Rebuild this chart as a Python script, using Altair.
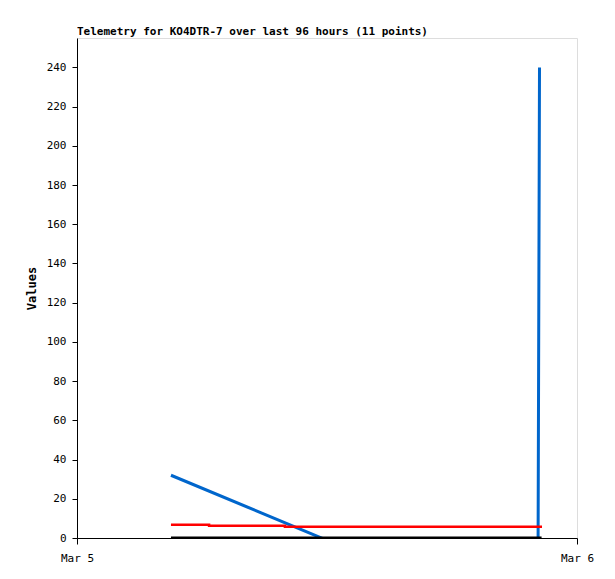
import altair as alt
import pandas as pd

# hours since Mar 5 00:00
blue_t = [4.51, 22.12, 22.2]
blue_v = [32, -46, 240]
red_t = [4.51, 6.34, 9.98, 22.32]
red_v = [6.7, 6.2, 5.8, 5.8]
black_t = [4.51, 22.3]
black_v = [0, 0]

x_ticks = [0, 24]
x_labels = ["Mar 5", "Mar 6"]
y_ticks = list(range(0, 241, 20))

FONT = "DejaVu Sans Mono"

rows = []
for i, (t, v) in enumerate(zip(blue_t, blue_v)):
    rows.append({"t": t, "v": v, "s": "blue", "o": i})
for i, (t, v) in enumerate(zip(red_t, red_v)):
    rows.append({"t": t, "v": v, "s": "red", "o": i})
for i, (t, v) in enumerate(zip(black_t, black_v)):
    rows.append({"t": t, "v": v, "s": "black", "o": i})
df = pd.DataFrame(rows)

label_expr = "datum.value == 0 ? '%s' : '%s'" % (x_labels[0], x_labels[1])

x = alt.X("t:Q", scale=alt.Scale(domain=[0, 24], nice=False, zero=False),
          axis=alt.Axis(values=x_ticks, labelExpr=label_expr, title=None, grid=False,
                        tickSize=6, labelPadding=8, labelFlush=False,
                        domainColor="black", tickColor="black",
                        labelFont=FONT, labelFontSize=11, labelColor="black"))
y = alt.Y("v:Q", scale=alt.Scale(domain=[0, 255], nice=False),
          axis=alt.Axis(values=y_ticks, title="Values", grid=False, tickSize=5,
                        labelPadding=6, domainColor="black", tickColor="black",
                        labelFont=FONT, labelFontSize=11, labelColor="black",
                        titleFont=FONT, titleFontSize=12, titleFontWeight="bold",
                        titlePadding=8, titleColor="black"))

blue = alt.Chart(df[df.s == "blue"]).mark_line(color="#0066cc", strokeWidth=3, clip=True).encode(
    x=x, y=y, order="o:Q")
red = alt.Chart(df[df.s == "red"]).mark_line(color="#ff0000", strokeWidth=2.5, interpolate="step-after", clip=True).encode(
    x=x, y=y, order="o:Q")
black = alt.Chart(df[df.s == "black"]).mark_line(color="black", strokeWidth=3, clip=True).encode(
    x=x, y=y, order="o:Q")

chart = alt.layer(blue, red, black).properties(
    width=500, height=500,
    title=alt.TitleParams("Telemetry for KO4DTR-7 over last 96 hours (11 points)",
                          anchor="start", frame="group", font=FONT, fontSize=11,
                          fontWeight="bold", color="black", offset=1),
    autosize=alt.AutoSizeParams(type="none"),
    padding={"left": 69, "top": 30, "right": 30, "bottom": 30},
).configure_view(stroke="#666666", strokeWidth=1).configure(background="white")

chart.save("out.html", embed_options={"renderer": "svg", "actions": False})
